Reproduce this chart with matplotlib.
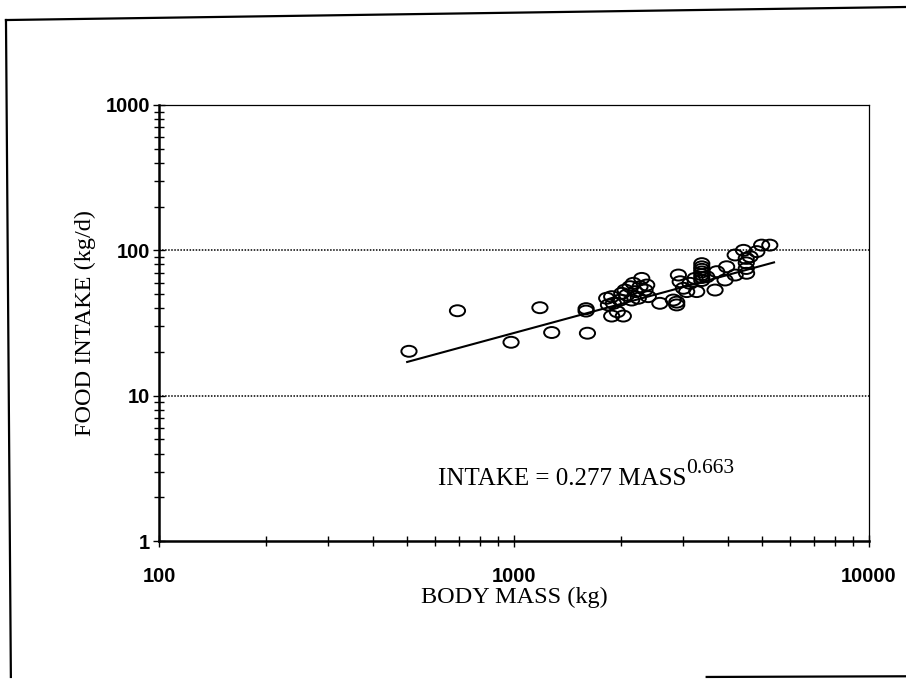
import numpy as np
import matplotlib
matplotlib.use("Agg")
import matplotlib.pyplot as plt
from matplotlib.path import Path
from matplotlib.transforms import Affine2D
from matplotlib.ticker import LogLocator, FixedLocator, NullFormatter
from matplotlib.lines import Line2D

# ---- data ----
body_mass = [506, 693, 981, 1183, 1277, 1596, 1610, 1596,
             1824, 1884, 1845, 1905, 1884, 1954, 2032, 1990, 2011, 2055, 2077,
             2122, 2168, 2192, 2264, 2290, 2339, 2365, 2389, 2145, 2239, 2575,
             2810, 2873, 2873, 2904, 2938, 3000, 3065, 3130, 3235, 3270,
             3380, 3380, 3380, 3380, 3380, 3380, 3380,
             3490, 3684, 3724, 3930, 3971, 4197, 4197, 4430,
             4510, 4510, 4510, 4623, 4520, 4830, 4983, 5254]
food_intake = [20.2, 38.4, 23.3, 40.3, 27.2, 39.7, 26.9, 38.2,
               46.8, 48.0, 42.1, 43.2, 35.3, 37.8, 35.3, 45.5, 50.6, 53.3, 49.2,
               56.2, 59.3, 52.0, 56.2, 64.1, 53.3, 57.7, 48.0, 45.5, 46.8, 43.2,
               45.5, 42.1, 44.0, 67.6, 60.8, 54.8, 52.0, 59.3, 64.1, 52.0,
               81.0, 77.0, 74.0, 71.0, 68.0, 65.0, 62.0,
               65.8, 53.3, 71.3, 62.5, 77.1, 67.6, 92.9, 100.0,
               75.0, 82.0, 88.0, 90.4, 69.5, 98.0, 108.6, 108.6]

fit_coef = 0.277
fit_exp = 0.663
fit_range = [500, 5400]

x_ticks = [100, 1000, 10000]
y_ticks = [1, 10, 100, 1000]
equation_main = "INTAKE = 0.277 MASS"
equation_sup = "0.663"
x_label = "BODY MASS (kg)"
y_label = "FOOD INTAKE (kg/d)"

# ---- figure ----
fig = plt.figure(figsize=(9.06, 6.79), dpi=100)
ax = fig.add_axes([0.1755, 0.2032, 0.7837, 0.6422])

ax.set_xscale("log")
ax.set_yscale("log")
ax.set_xlim(100, 10000)
ax.set_ylim(1, 1000)

# elliptical open marker
ell = Path.unit_circle().transformed(Affine2D().scale(1.0, 0.72))
ax.scatter(body_mass, food_intake, s=120, marker=ell, facecolors="none",
           edgecolors="black", linewidths=1.4, zorder=3)

fx = np.array(fit_range, dtype=float)
ax.plot(fx, fit_coef * fx ** fit_exp, color="black", lw=1.5, zorder=2)

# dotted gridlines at 10 and 100
for yv in [10, 100]:
    ax.axhline(yv, color="black", lw=1.1, ls=(0, (1, 1)), zorder=1)

serif = ["Liberation Serif", "DejaVu Serif"]
sans = ["Liberation Sans", "DejaVu Sans"]

main_txt = ax.text(0.393, 0.128, equation_main, transform=ax.transAxes,
                   family=serif, fontsize=18, ha="left", va="baseline")
ax.annotate(equation_sup, xy=(1.0, 0.55), xycoords=main_txt,
            family=serif, fontsize=15.5, ha="left", va="bottom")

ax.set_xlabel(x_label, family=serif, fontsize=17.5, labelpad=1)
ax.set_ylabel(y_label, family=serif, fontsize=17.5, labelpad=7)

ax.xaxis.set_major_locator(FixedLocator(x_ticks))
ax.yaxis.set_major_locator(FixedLocator(y_ticks))
ax.set_xticklabels([str(v) for v in x_ticks])
ax.set_yticklabels([str(v) for v in y_ticks])
ax.xaxis.set_minor_locator(LogLocator(base=10, subs=np.arange(2, 10)))
ax.yaxis.set_minor_locator(LogLocator(base=10, subs=np.arange(2, 10)))
ax.xaxis.set_minor_formatter(NullFormatter())
ax.yaxis.set_minor_formatter(NullFormatter())

for lab in ax.get_xticklabels() + ax.get_yticklabels():
    lab.set_family(sans)
    lab.set_fontweight("bold")
    lab.set_fontsize(14.5)

ax.tick_params(axis="both", which="both", direction="inout", color="black",
               width=1.0, top=False, right=False)
ax.tick_params(axis="both", which="major", length=9)
ax.tick_params(axis="both", which="minor", length=7)
ax.tick_params(axis="x", which="major", pad=14)
ax.tick_params(axis="y", which="major", pad=2)

ax.spines["left"].set_linewidth(1.8)
ax.spines["bottom"].set_linewidth(1.8)
ax.spines["top"].set_linewidth(0.9)
ax.spines["right"].set_linewidth(0.9)

# outer frame of the scanned figure
fig.add_artist(Line2D([0.0066, 0.012], [0.9705, 0.003], transform=fig.transFigure,
                      color="black", lw=1.6))
fig.add_artist(Line2D([0.0066, 1.0], [0.9705, 0.9897], transform=fig.transFigure,
                      color="black", lw=1.6))
fig.add_artist(Line2D([0.78, 1.0], [0.003, 0.004], transform=fig.transFigure,
                      color="black", lw=1.6))

fig.savefig("out.png", dpi=100)
